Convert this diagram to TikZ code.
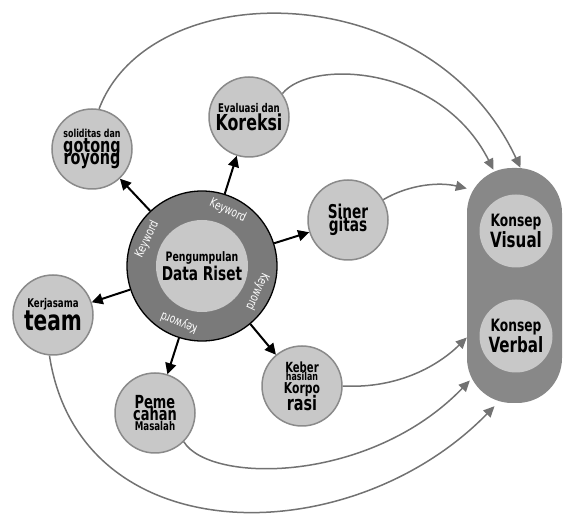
\documentclass[tikz,border=0pt]{standalone}
\usepackage{fontspec}
\setmainfont{DejaVu Sans Condensed}[FakeStretch=0.8]
\usetikzlibrary{arrows.meta,positioning}
\definecolor{ringgray}{HTML}{7A7A7A}
\definecolor{satfill}{HTML}{C8C8C8}
\definecolor{satline}{HTML}{8A8A8A}
\definecolor{flowgray}{HTML}{727272}
\definecolor{boxgray}{HTML}{888888}
\newcommand{\fs}[2]{{\fontsize{#1}{1}\selectfont #2}}
\tikzset{
  sat/.style={circle, draw=satline, line width=1.5pt, fill=satfill, minimum size=80pt,
              inner sep=0pt, align=center, font=\bfseries\fontsize{12}{1}\selectfont},
  inner/.style={circle, fill=satfill, minimum size=73pt, inner sep=0pt, align=center,
                font=\bfseries\fontsize{12}{1}\selectfont},
  ar/.style={-{Triangle[length=11pt,width=11pt]}, line width=2pt},
  flow/.style={-{Triangle[length=11pt,width=10pt]}, line width=1.5pt, draw=flowgray},
  kw/.style={text=white, font=\fontsize{12.5}{12.5}\selectfont, inner sep=0pt},
}

\begin{document}
\begin{tikzpicture}[x=1pt,y=1pt]
\useasboundingbox (0,0) rectangle (565,514);
% hub
\node[circle, draw=black, line width=1.3pt, fill=ringgray, minimum size=150pt] (data) at (202,248) {};
\node[circle, fill=satfill, minimum size=92pt, inner sep=0pt, align=center,
      font=\bfseries\fontsize{12}{1}\selectfont] (core) at (data)
      {\fs{13}{Pengumpulan}\\[1pt]\fs{19}{Data Riset}};
\node[kw, rotate=-25] (kwa) at ([shift={(65:61)}]data) {Keyword};
\node[kw, rotate=64] (kwb) at ([shift={(154:61)}]data) {Keyword};
\node[kw, rotate=-115] (kwc) at ([shift={(-25:61)}]data) {Keyword};
\node[kw, rotate=158] (kwd) at ([shift={(-112:61)}]data) {Keyword};
% satellites
\node[sat] (sol) at (92,365) {\fs{11}{soliditas dan}\\\fs{20}{gotong}\\[-4pt]\fs{20}{royong}};
\node[sat] (eval) at (249,397) {\fs{12}{Evaluasi dan}\\\fs{22}{Koreksi}};
\node[sat] (siner) at (348,294) {\fs{19}{Siner}\\[-3pt]\fs{19}{gitas}};
\node[sat] (kerja) at (53,199) {\fs{12}{Kerjasama}\\\fs{28}{team}};
\node[sat] (peme) at (155,101) {\fs{18}{Peme}\\[-3pt]\fs{18}{cahan}\\\fs{12}{Masalah}};
\node[sat] (keber) at (302,128) {\fs{14}{Keber}\\[-1pt]\fs{11}{hasilan}\\[1pt]\fs{15}{Korpo}\\[-3pt]\fs{20}{rasi}};
% target block
\node[rectangle, rounded corners=45pt, fill=boxgray, minimum width=95pt, minimum height=235pt] (konsep) at (514.5,228.5) {};
\node[inner] (visual) at (516,283) {\fs{17}{Konsep}\\\fs{21}{Visual}};
\node[inner] (verbal) at (516,178) {\fs{17}{Konsep}\\\fs{21}{Verbal}};
% keyword arrows
\foreach \s in {sol,eval,siner,kerja,peme,keber} \draw[ar] (data) -- (\s);
% flows into the block
\draw[flow] (sol.80) .. controls (150,540) and (430,540) .. ([xshift=6pt]konsep.north);
\draw[flow] (eval.35) .. controls (310,455) and (440,450) .. ([xshift=-21pt,yshift=-2pt]konsep.north);
\draw[flow] (siner.30) .. controls (410,330) and (440,332) .. ([yshift=97pt]konsep.west);
\draw[flow] (keber.east) .. controls (400,125) and (440,150) .. ([yshift=-52pt]konsep.west);
\draw[flow] (peme.-45) .. controls (210,30) and (370,30) .. ([xshift=3pt,yshift=-95pt]konsep.west);
\draw[flow] (kerja.-95) .. controls (80,-40) and (350,-40) .. ([xshift=-20pt,yshift=-3pt]konsep.south);
\end{tikzpicture}
\end{document}
